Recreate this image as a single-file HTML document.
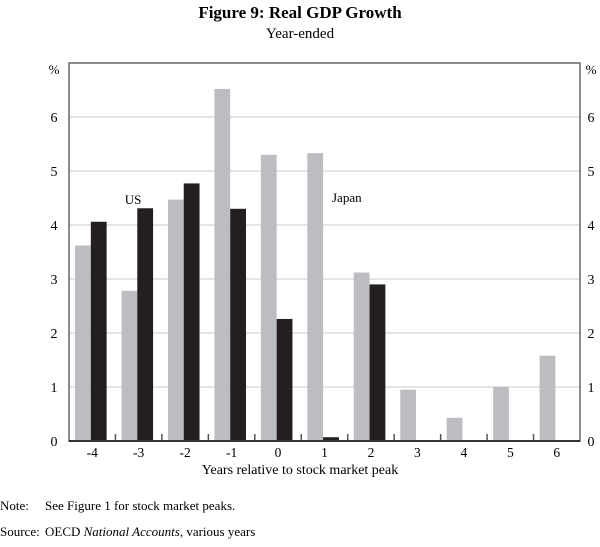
<!DOCTYPE html>
<html><head><meta charset="utf-8"><style>
body{margin:0;background:#fff;width:600px;height:542px;overflow:hidden;font-family:"Liberation Serif",serif}
</style></head><body>
<svg width="600" height="542" font-family="Liberation Serif, serif">
<text x="300" y="18" text-anchor="middle" font-size="17" font-weight="bold">Figure 9: Real GDP Growth</text>
<text x="300" y="38" text-anchor="middle" font-size="15">Year-ended</text>
<g id="grid"></g>
<g id="bars"></g>
<g id="axes"></g>
<text x="300" y="474" text-anchor="middle" font-size="14">Years relative to stock market peak</text>
<text x="133" y="204" text-anchor="middle" font-size="13">US</text>
<text x="332" y="202" font-size="13">Japan</text>
<text x="0" y="510" font-size="13">Note:<tspan x="45">See Figure 1 for stock market peaks.</tspan></text>
<text x="0" y="536" font-size="13">Source:<tspan x="45">OECD </tspan><tspan font-style="italic">National Accounts</tspan><tspan>, various years</tspan></text>
</svg>
<script>
const categories=["-4","-3","-2","-1","0","1","2","3","4","5","6"];
const japan=[3.62,2.78,4.47,6.52,5.3,5.33,3.12,0.95,0.43,1.0,1.58];
const us=[4.06,4.31,4.77,4.3,2.26,0.07,2.9,null,null,null,null];
const yTicks=[0,1,2,3,4,5,6];
const L=69,R=580,T=63,B=441,yMax=7;
const ns="http://www.w3.org/2000/svg";
const svg=document.querySelector("svg");
const gw=(R-L)/categories.length;
const y=v=>B-(v/yMax)*(B-T);
const x=i=>L+i*gw;
function mk(tag,attrs,parent){const e=document.createElementNS(ns,tag);for(const k in attrs)e.setAttribute(k,attrs[k]);parent.appendChild(e);return e;}
const grid=document.getElementById("grid"),bars=document.getElementById("bars"),axes=document.getElementById("axes");
yTicks.forEach(t=>{
  if(t>0){const g=mk("line",{x1:L,x2:R,y1:y(t),y2:y(t),stroke:"#c8c8c8","stroke-width":1},grid);
  
  }
  const a=mk("text",{x:L-15,y:y(t)+5,"text-anchor":"middle","font-size":14},axes);a.textContent=t;
  
  
  const b=mk("text",{x:R+11,y:y(t)+5,"text-anchor":"middle","font-size":14},axes);b.textContent=t;
  
  
});
[L-15,R+11].forEach(px=>{const p=mk("text",{x:px,y:T+11,"text-anchor":"middle","font-size":13},axes);p.textContent="%";

});
categories.forEach((c,i)=>{
  const bw=gw*0.34;
  const gx=x(i)+gw*0.13;
  const j=mk("rect",{x:gx,y:y(japan[i]),width:bw,height:B-y(japan[i]),fill:"#bcbdc0"},bars);
  
  
  if(us[i]!=null){const u=mk("rect",{x:gx+bw,y:y(us[i]),width:bw,height:B-y(us[i]),fill:"#231f20"},bars);
  
  }
  const lb=mk("text",{x:x(i)+gw/2,y:B+16,"text-anchor":"middle","font-size":13.5},axes);lb.textContent=c;
  
  
  if(i>0){const tk=mk("line",{x1:x(i),x2:x(i),y1:B,y2:B-7,stroke:"#555","stroke-width":1.5},axes);
  
  }
});
const fr=mk("rect",{x:L,y:T,width:R-L,height:B-T,fill:"none",stroke:"#666","stroke-width":1.5},axes);


const base=mk("line",{x1:L,x2:R,y1:B,y2:B,stroke:"#333","stroke-width":2},axes);


</script>
</body></html>
